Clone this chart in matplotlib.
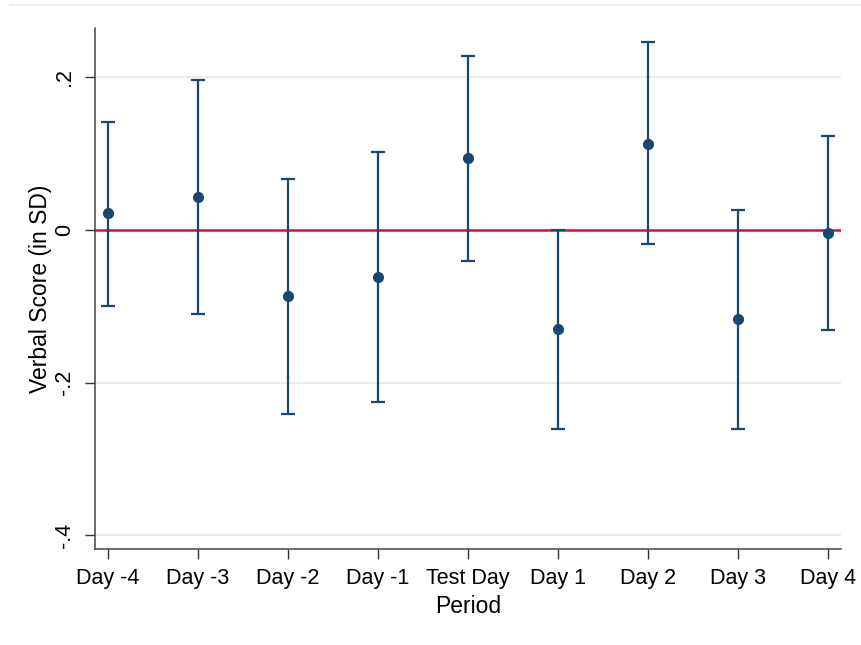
import matplotlib.pyplot as plt
from matplotlib.lines import Line2D

periods = ["Day -4", "Day -3", "Day -2", "Day -1", "Test Day", "Day 1", "Day 2", "Day 3", "Day 4"]
estimate = [0.022, 0.043, -0.086, -0.062, 0.094, -0.130, 0.113, -0.117, -0.004]
ci_upper = [0.141, 0.196, 0.067, 0.102, 0.228, 0.000, 0.246, 0.026, 0.123]
ci_lower = [-0.0995, -0.110, -0.241, -0.225, -0.041, -0.261, -0.018, -0.261, -0.131]
y_ticks = [-0.4, -0.2, 0, 0.2]
y_tick_labels = ["-.4", "-.2", "0", ".2"]

plt.rcParams['font.family'] = ['Liberation Sans', 'DejaVu Sans']

navy = '#1a476f'
fig = plt.figure(figsize=(8.62, 6.45), dpi=100)
ax = fig.add_axes([0.110, 0.1488, 0.8656, 0.8078])

# faint outer frame line at the top
fig.add_artist(Line2D([0.012, 1.0], [0.992, 0.992], transform=fig.transFigure, color='#e8eeee', lw=1.2))

x = list(range(len(periods)))
err_lo = [e - l for e, l in zip(estimate, ci_lower)]
err_hi = [u - e for e, u in zip(estimate, ci_upper)]

for t in y_ticks:
    if t != 0:
        ax.axhline(t, color='#e6eef0', lw=1.5, zorder=0)
ax.axhline(0, color='#d0103a', lw=1.8, zorder=1)

ax.errorbar(x, estimate, yerr=[err_lo, err_hi], fmt='o', color=navy, ecolor=navy,
            elinewidth=1.6, capsize=5, capthick=1.6, markersize=7, zorder=3)

ax.set_xlim(-0.145, 8.145)
ax.set_ylim(-0.418, 0.2646)
ax.set_xticks(x)
ax.set_xticklabels(periods, fontsize=15.5)
ax.set_yticks(y_ticks)
ax.set_yticklabels(y_tick_labels, fontsize=15.5, rotation=90, va='center')
ax.tick_params(axis='both', length=7, width=1, color='#333333', pad=7)

for s in ['top', 'right']:
    ax.spines[s].set_visible(False)
for s in ['left', 'bottom']:
    ax.spines[s].set_color('#444444')
    ax.spines[s].set_linewidth(1.1)

ax.set_xlabel("Period", fontsize=16.5, labelpad=4)
ax.set_ylabel("Verbal Score (in SD)", fontsize=16.5, labelpad=1.5)

plt.savefig("out.png", dpi=100)
